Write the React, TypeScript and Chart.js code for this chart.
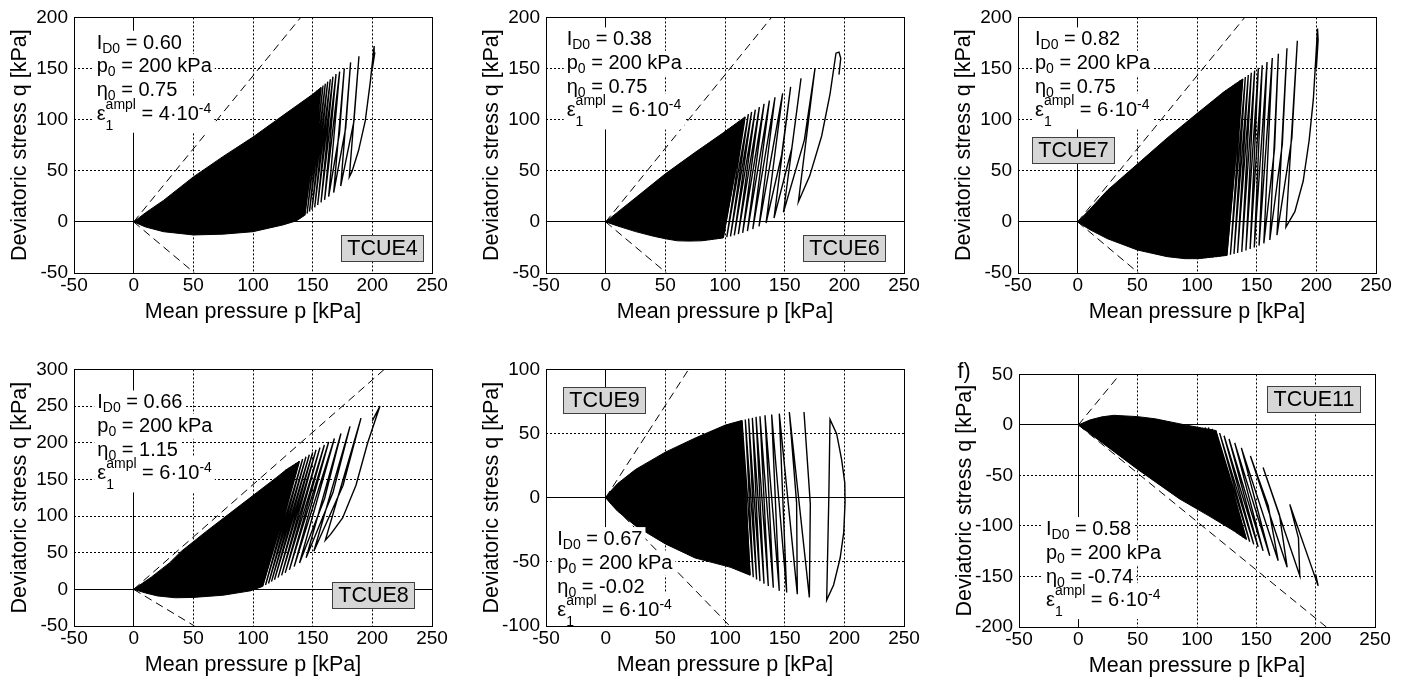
import React, { useEffect, useRef } from 'react';
import { Chart, registerables } from 'chart.js';

Chart.register(...registerables);

type Pt = [number, number];

const FONT = '"Liberation Sans", Arial, Helvetica, sans-serif';

// ---------- tick labels ----------
const pTicks = [-50, 0, 50, 100, 150, 200, 250];
const qTicks200 = [-50, 0, 50, 100, 150, 200];
const qTicks300 = [-50, 0, 50, 100, 150, 200, 250, 300];
const qTicks100 = [-100, -50, 0, 50, 100];
const qTicks50 = [-200, -150, -100, -50, 0, 50];

// ---------- test parameters ----------
const testNames = ['TCUE4', 'TCUE6', 'TCUE7', 'TCUE8', 'TCUE9', 'TCUE11'];
const densityID0 = ['0.60', '0.38', '0.82', '0.66', '0.67', '0.58'];
const p0kPa = ['200', '200', '200', '200', '200', '200'];
const eta0 = ['0.75', '0.75', '0.75', '1.15', '-0.02', '-0.74'];
const epsAmpl = ['4', '6', '6', '6', '6', '6'];

// ---------- TCUE4 ----------
const tcue4Path: Pt[] = [
  [200, 150], [202, 165], [201.5, 172], [198.3, 137], [194.1, 99], [188.5, 70], [183, 49.4], [180.7, 44],
  [188.8, 162], [184.6, 98.5], [173.5, 35], [181.8, 156], [177.7, 92], [167.6, 28.6], [176.5, 150], [172.5, 87], [163.4, 24.8],
  [172.6, 147], [160, 21.6],
  [169.6, 144.5], [157, 19], [167, 142], [154.2, 16.5], [164.8, 139.5], [151.7, 14.2], [162.6, 137], [149.4, 12],
  [160.6, 135], [147.3, 10], [158.7, 133.4], [145.3, 8], [157, 131.5], [143.4, 6.5], [155.3, 130], [141.5, 5],
  [153.6, 128.3], [139.7, 3.6], [152, 126.4], [138, 2.2], [150.3, 125], [136.3, 1],
];
const tcue4Core: Pt[] = [
  [0, 0], [5, 4.5], [10, 9], [25, 21], [50, 44], [75, 64], [100, 83], [125, 104], [150.3, 125], [157, 131.5], [143.4, 6.5],
  [136.3, 1], [125, -3], [100, -9.6], [75, -12], [50, -12.8], [25, -9.6], [10, -5], [0, 0],
];
const tcue4Comp: Pt[] = [[0, 0], [140, 200]];
const tcue4Ext: Pt[] = [[0, 0], [51, -50]];

// ---------- TCUE6 ----------
const tcue6Path: Pt[] = [
  [195.5, 144], [197, 160], [195.5, 166], [193, 165], [188, 125], [181, 84], [171, 45], [161.5, 19.6],
  [175.4, 150], [166.5, 80], [149, 9.4], [163.7, 140.4], [156, 72], [141.1, 3.7], [155, 132.1], [147.5, 65.5], [134.4, -1.1],
  [148.3, 125.7], [128.5, -4.5],
  [141.9, 121.9], [123.3, -7], [137.2, 118.7], [118.8, -9], [132.7, 115.5], [114.8, -10.7], [128.8, 112.3], [111.2, -12],
  [125.4, 109.7], [107.8, -13.2], [122.3, 107.5], [104.6, -14.2], [119.6, 105.3], [101.5, -15], [116.8, 102.7], [98.5, -15.7],
  [114, 100.2], [95.5, -16.3], [111.2, 97.9], [92.5, -16.9], [108.4, 95.7], [89.5, -17.4], [105.6, 93.1], [86.5, -17.8],
  [102.8, 90.9], [83.5, -18.2], [100, 88.3], [80.5, -18.5],
];
const tcue6Core: Pt[] = [
  [0, 0], [10, 9.5], [25, 23.5], [50, 47], [75, 68], [100, 88.3], [116.8, 102.7], [98.5, -15.7], [80.5, -18.5],
  [70, -18.8], [60, -18.5], [50, -16.5], [40, -14], [25, -9.5], [10, -4], [0, 0],
];
const tcue6Comp: Pt[] = [[0, 0], [139, 200]];
const tcue6Ext: Pt[] = [[0, 0], [51, -50]];

// ---------- TCUE7 ----------
const tcue7Path: Pt[] = [
  [200, 150], [201.5, 178], [201, 189], [199.8, 165], [197.5, 120], [194, 80], [189, 40], [182, 10], [174.5, -5],
  [184.1, 177.2], [179.5, 82], [167, -13], [175.4, 169.8], [171.5, 76], [161, -17.7], [168.2, 164.4], [165, 71.7], [156, -21],
  [163.1, 160.2], [152, -23.2],
  [158.7, 156.4], [148, -25], [154.7, 153.2], [144.5, -26.5], [151.4, 150.6], [141, -28], [148.3, 148.1], [137.5, -29.3],
  [145.5, 145.8], [134, -30.4], [143, 143.6], [131, -31.3], [140.5, 141.7], [128, -32.1], [138.3, 139.8], [125, -32.8],
  [136, 138.2], [122, -33.4], [134.1, 136.6], [119, -34], [132.1, 135], [116, -34.5], [130.2, 133.4], [113, -34.9],
  [128.2, 131.8], [110, -35.3], [126.3, 130.2], [107, -35.6], [124.3, 128.6], [104, -35.8], [122.3, 127], [101, -36],
];
const tcue7Core: Pt[] = [
  [0, 0], [10, 12], [25, 31], [50, 56.5], [75, 82], [100, 106], [122.3, 127], [138.3, 139.8], [125, -32.8], [101, -36],
  [90, -36], [75, -34], [50, -27.5], [25, -16.5], [10, -7.5], [0, 0],
];
const tcue7Comp: Pt[] = [[0, 0], [140, 200]];
const tcue7Ext: Pt[] = [[0, 0], [51, -50]];

// ---------- TCUE8 ----------
const tcue8Path: Pt[] = [
  [200, 230], [206.4, 250], [196.1, 200], [186.3, 142], [175.1, 97.3], [165, 75], [160.6, 67],
  [190.5, 233.5], [175.5, 142], [151, 52], [181.3, 222.3], [167, 132], [144.5, 43], [173.7, 212.5], [160, 124], [139, 36],
  [168.2, 205.8], [134.5, 31],
  [163.4, 200.9], [130.5, 26.5], [159.8, 196.9], [127, 22.5], [156.1, 193.3], [124, 19], [152.8, 190.2], [121, 16],
  [150, 186.6], [118, 13], [147.2, 183.5], [115.5, 10.5], [144.4, 180.8], [113, 8], [141.6, 177.7], [110.5, 6],
  [138.8, 174.6], [108, 4], [136, 171.9], [105.5, 2.5], [133.2, 168.8], [103, 1], [130.4, 165.6], [100.5, -0.5],
  [127.7, 163], [98, -2],
];
const tcue8Core: Pt[] = [
  [0, 0], [15, 17], [30, 36], [40, 52], [60, 78], [80, 103], [100, 128], [120, 153], [127.7, 163], [138.8, 174.6],
  [108, 4], [98, -2], [75, -8], [50, -11], [35, -11.5], [20, -9], [10, -5], [0, 0],
];
const tcue8Comp: Pt[] = [[0, 0], [210, 300]];
const tcue8Ext: Pt[] = [[0, 0], [51, -50]];

// ---------- TCUE9 ----------
const tcue9First: Pt[] = [
  [200.6, -4], [200.4, 11.5], [197.8, 29.3], [193.6, 49.7], [188, 61], [187, 0], [185.2, -79.8],
  [191, -68], [196.5, -47], [199.5, -27], [200.6, -4],
];
const tcue9Path: Pt[] = [
  [166.2, 66.8], [171.5, -5], [170.7, -77.7], [153.9, 66.8], [160, -4], [160.6, -75.2], [145.5, 65.5], [151.7, -73.9],
  [139.1, 64.8], [145.5, -72.6],
  [133.5, 64.2], [140.5, -70.1], [129.3, 63.5], [136.3, -68.8], [126, 63], [132.7, -67], [122.9, 62.2], [129.3, -65],
  [119.8, 61.7], [126.5, -63.7], [117, 60.9], [123.7, -62], [114.2, 60.2], [121, -60.4], [111.7, 59.7], [118.2, -59.4],
  [109.2, 58.9], [115.4, -57.9], [107, 58.4], [112.6, -56.9], [104.7, 57.9], [109.8, -55.6], [102.5, 57.1], [107, -54.8],
  [100.3, 56.6], [104.2, -54.1],
];
const tcue9Core: Pt[] = [
  [0, 0], [5, 6], [10, 11], [25, 22], [50, 35.5], [75, 46.5], [100.3, 56.6], [114.2, 60.2], [121, -60.4],
  [104.2, -54.1], [75, -47], [50, -36], [25, -22], [10, -10.5], [5, -5.5], [0, 0],
];
const tcue9Comp: Pt[] = [[0, 0], [69.5, 100]];
const tcue9Ext: Pt[] = [[0, 0], [104, -100]];

// ---------- TCUE11 ----------
const tcue11Path: Pt[] = [
  [200, -148], [202.1, -159.3], [178.2, -78.7], [185.5, -112], [186.6, -149], [155.7, -42.1], [169.5, -89], [176, -140.9],
  [145, -30.8], [160, -80], [168.4, -134.4],
  [137.4, -22.7], [161.3, -129.5], [131.8, -17.8], [155.7, -124.7], [127, -13.9], [151.5, -120.8], [122.8, -10.7], [147.8, -118.2],
  [119.1, -8.1], [144.4, -115.6], [115.8, -5.5], [141.6, -113.3], [112.7, -3.9], [138.8, -111.1], [109.6, -2.5], [136, -109.1],
  [106.8, -2.5], [133.8, -107.2], [104, -3], [131.5, -105.2],
];
const tcue11Core: Pt[] = [
  [0, 0], [10, 5], [20, 8], [30, 9.5], [50, 8.2], [65, 6], [75, 3.6], [90, 0], [104, -3], [115.8, -5.5], [141.6, -113.3],
  [131.5, -105.2], [110, -90], [85, -73], [50, -44], [25, -22], [0, 0],
];
const tcue11Comp: Pt[] = [[0, 0], [35, 50]];
const tcue11Ext: Pt[] = [[0, 0], [209, -200]];

// ---------- layout (positions only) ----------
interface PanelCfg {
  idx: number;
  l: number; t: number; w: number; h: number;
  qMin: number; qMax: number; qTicks: number[];
  paths: Pt[][]; core: Pt[]; comp: Pt[]; ext: Pt[];
  infoX: number; infoY: number;
  labelX: number; labelY: number;
  tag?: string;
}

const panels: PanelCfg[] = [
  { idx: 0, l: 74, t: 12, w: 358, h: 261, qMin: -50, qMax: 200, qTicks: qTicks200,
    paths: [tcue4Path], core: tcue4Core, comp: tcue4Comp, ext: tcue4Ext,
    infoX: 22.7, infoY: 31.3, labelX: 266.7, labelY: 218 },
  { idx: 1, l: 546, t: 12, w: 358, h: 261, qMin: -50, qMax: 200, qTicks: qTicks200,
    paths: [tcue6Path], core: tcue6Core, comp: tcue6Comp, ext: tcue6Ext,
    infoX: 20.7, infoY: 28, labelX: 257.3, labelY: 218 },
  { idx: 2, l: 1018, t: 12, w: 358, h: 261, qMin: -50, qMax: 200, qTicks: qTicks200,
    paths: [tcue7Path], core: tcue7Core, comp: tcue7Comp, ext: tcue7Ext,
    infoX: 17, infoY: 28, labelX: 13.7, labelY: 119.7 },
  { idx: 3, l: 74, t: 364, w: 358, h: 262, qMin: -50, qMax: 300, qTicks: qTicks300,
    paths: [tcue8Path], core: tcue8Core, comp: tcue8Comp, ext: tcue8Ext,
    infoX: 23.3, infoY: 39, labelX: 258.3, labelY: 212.4 },
  { idx: 4, l: 546, t: 364, w: 358, h: 262, qMin: -100, qMax: 100, qTicks: qTicks100,
    paths: [tcue9First, tcue9Path], core: tcue9Core, comp: tcue9Comp, ext: tcue9Ext,
    infoX: 11.3, infoY: 175.7, labelX: 17.3, labelY: 17.4 },
  { idx: 5, l: 1019, t: 369, w: 356, h: 258, qMin: -200, qMax: 50, qTicks: qTicks50,
    paths: [tcue11Path], core: tcue11Core, comp: tcue11Comp, ext: tcue11Ext,
    infoX: 27, infoY: 160.7, labelX: 248.3, labelY: 11.4, tag: 'f)' },
];

const AXIS_W = 70;
const AXIS_H = 57;
const PAD_T = 12;
const PAD_R = 30;

// ---------- rich text ----------
type Seg = { k: 'n' | 'sub' | 'sup'; t: string } | { k: 'ss'; sub: string; sup: string };

const MAIN = 20;
const SMALL = 14;
const fontOf = (s: number) => `${s}px ${FONT}`;

function infoLines(i: number): Seg[][] {
  return [
    [{ k: 'n', t: 'I' }, { k: 'sub', t: 'D0' }, { k: 'n', t: ' = ' + densityID0[i] }],
    [{ k: 'n', t: 'p' }, { k: 'sub', t: '0' }, { k: 'n', t: ' = ' + p0kPa[i] + ' kPa' }],
    [{ k: 'n', t: 'η' }, { k: 'sub', t: '0' }, { k: 'n', t: ' = ' + eta0[i] }],
    [{ k: 'n', t: 'ε' }, { k: 'ss', sub: '1', sup: 'ampl' }, { k: 'n', t: ' = ' + epsAmpl[i] + '·10' }, { k: 'sup', t: '-4' }],
  ];
}

function segWidth(ctx: CanvasRenderingContext2D, s: Seg): number {
  if (s.k === 'ss') {
    ctx.font = fontOf(SMALL);
    return Math.max(ctx.measureText(s.sub).width, ctx.measureText(s.sup).width);
  }
  ctx.font = fontOf(s.k === 'n' ? MAIN : SMALL);
  return ctx.measureText(s.t).width;
}

function richWidth(ctx: CanvasRenderingContext2D, segs: Seg[]) {
  let w = 0;
  for (const s of segs) w += segWidth(ctx, s);
  return w;
}

function drawRichBg(ctx: CanvasRenderingContext2D, x: number, y: number, segs: Seg[]) {
  const w = richWidth(ctx, segs);
  const ss = segs.some((s) => s.k === 'ss');
  ctx.fillStyle = '#fff';
  ctx.fillRect(x - 3, y - (ss ? 23 : 18), w + 6, ss ? 36 : 25);
}

function drawRichText(ctx: CanvasRenderingContext2D, x: number, y: number, segs: Seg[]) {
  ctx.fillStyle = '#000';
  let cx = x;
  for (const s of segs) {
    const sw = segWidth(ctx, s);
    if (s.k === 'ss') {
      ctx.fillText(s.sup, cx, y - 11);
      ctx.fillText(s.sub, cx, y + 10);
    } else if (s.k === 'sub') ctx.fillText(s.t, cx, y + 4);
    else if (s.k === 'sup') ctx.fillText(s.t, cx, y - 7);
    else ctx.fillText(s.t, cx, y);
    cx += sw;
  }
}

const LINE_OFF = [0, 23.4, 47.4, 71];

const al = (v: number) => Math.round(v - 0.5) + 0.5;

function makeDecor(cfg: PanelCfg) {
  return {
    id: 'decor' + cfg.idx,
    beforeDatasetsDraw(chart: any) {
      const { ctx, chartArea, scales } = chart;
      const { left, right, top, bottom } = chartArea;
      ctx.save();
      ctx.strokeStyle = '#000';
      ctx.lineWidth = 1;
      ctx.setLineDash([]);
      const y0 = al(scales.y.getPixelForValue(0));
      const x0 = al(scales.x.getPixelForValue(0));
      ctx.beginPath();
      ctx.moveTo(left, y0);
      ctx.lineTo(right, y0);
      ctx.moveTo(x0, top);
      ctx.lineTo(x0, bottom);
      ctx.stroke();
      ctx.restore();
    },
    afterDatasetsDraw(chart: any) {
      const { ctx, chartArea } = chart;
      const { left, top } = chartArea;
      ctx.save();
      ctx.textAlign = 'left';
      ctx.textBaseline = 'alphabetic';
      const lines = infoLines(cfg.idx);
      const x = left + cfg.infoX;
      lines.forEach((segs, k) => drawRichBg(ctx, x, top + cfg.infoY + LINE_OFF[k], segs));
      lines.forEach((segs, k) => drawRichText(ctx, x, top + cfg.infoY + LINE_OFF[k], segs));

      // test label box
      const name = testNames[cfg.idx];
      ctx.font = fontOf(21.5);
      const tw = ctx.measureText(name).width;
      const bx = Math.round(left + cfg.labelX) + 0.5;
      const by = Math.round(top + cfg.labelY) + 0.5;
      const bw = Math.round(tw + 12);
      const bh = 26;
      ctx.fillStyle = '#d6d6d6';
      ctx.fillRect(bx, by, bw, bh);
      ctx.strokeStyle = '#404040';
      ctx.lineWidth = 1;
      ctx.strokeRect(bx, by, bw, bh);
      ctx.fillStyle = '#000';
      ctx.textAlign = 'center';
      ctx.textBaseline = 'middle';
      ctx.fillText(name, bx + bw / 2, by + bh / 2 + 1);

      if (cfg.tag) {
        ctx.font = fontOf(21.5);
        ctx.fillText(cfg.tag, left - 55, top - 2);
      }
      ctx.restore();
    },
    afterDraw(chart: any) {
      const { ctx, chartArea } = chart;
      const { left, right, top, bottom } = chartArea;
      ctx.save();
      ctx.strokeStyle = '#000';
      ctx.lineWidth = 1;
      ctx.setLineDash([]);
      const x1 = al(left), x2 = al(right), y1 = al(top), y2 = al(bottom);
      ctx.strokeRect(x1, y1, x2 - x1, y2 - y1);
      ctx.restore();
    },
  };
}

const toXY = (a: Pt[]) => a.map(([x, y]) => ({ x, y }));

function PanelChart({ cfg }: { cfg: PanelCfg }) {
  const ref = useRef<HTMLCanvasElement | null>(null);
  const cw = cfg.w + AXIS_W + PAD_R;
  const ch = cfg.h + PAD_T + AXIS_H;

  useEffect(() => {
    const canvas = ref.current;
    if (!canvas) return;
    const tickFont = { family: FONT, size: 19 };
    const titleFont = { family: FONT, size: 21.5 };
    const lineDs = (d: Pt[], width: number, dash: number[] = []) => ({
      data: toXY(d),
      borderColor: '#000',
      borderWidth: width,
      borderDash: dash,
      backgroundColor: '#000',
      fill: false,
      pointRadius: 0,
      tension: 0,
    });
    const datasets: any[] = [
      lineDs(cfg.comp, 1, [8, 5]),
      lineDs(cfg.ext, 1, [8, 5]),
      ...cfg.paths.map((p) => lineDs(p, 1.4)),
      { ...lineDs(cfg.core, 1), fill: 'shape' },
    ];
    const chart = new Chart(canvas, {
      type: 'line',
      data: { datasets },
      options: {
        animation: false,
        responsive: false,
        devicePixelRatio: 1,
        events: [],
        layout: { padding: { left: 0, top: PAD_T, right: PAD_R, bottom: 0 } },
        plugins: {
          legend: { display: false },
          tooltip: { enabled: false },
          title: { display: false },
        },
        scales: {
          x: {
            type: 'linear',
            min: -50,
            max: 250,
            afterBuildTicks: (axis: any) => {
              axis.ticks = pTicks.map((v) => ({ value: v }));
            },
            afterFit: (axis: any) => {
              axis.height = AXIS_H;
            },
            ticks: {
              font: tickFont,
              color: '#000',
              padding: 1,
              maxRotation: 0,
              autoSkip: false,
              callback: (v: any) => String(v),
            },
            grid: { color: '#000', lineWidth: 1, drawTicks: false },
            border: { display: false, dash: [2, 2] },
            title: {
              display: true,
              text: 'Mean pressure p [kPa]',
              font: titleFont,
              color: '#000',
              padding: { top: 0, bottom: 4.6 },
            },
          },
          y: {
            type: 'linear',
            min: cfg.qMin,
            max: cfg.qMax,
            afterBuildTicks: (axis: any) => {
              axis.ticks = cfg.qTicks.map((v) => ({ value: v }));
            },
            afterFit: (axis: any) => {
              axis.width = AXIS_W;
            },
            ticks: {
              font: tickFont,
              color: '#000',
              padding: 6,
              autoSkip: false,
              callback: (v: any) => String(v),
            },
            grid: { color: '#000', lineWidth: 1, drawTicks: false },
            border: { display: false, dash: [2, 2] },
            title: {
              display: true,
              text: 'Deviatoric stress q [kPa]',
              font: titleFont,
              color: '#000',
              padding: { top: 3, bottom: 0 },
            },
          },
        },
      } as any,
      plugins: [makeDecor(cfg)],
    });
    return () => chart.destroy();
  }, [cfg]);

  return (
    <canvas
      ref={ref}
      width={cw}
      height={ch}
      style={{
        position: 'absolute',
        left: cfg.l - AXIS_W,
        top: cfg.t - PAD_T,
        width: cw,
        height: ch,
      }}
    />
  );
}

export default function App() {
  return (
    <div
      style={{
        position: 'absolute',
        left: 0,
        top: 0,
        width: 1422,
        height: 686,
        background: '#fff',
        overflow: 'hidden',
      }}
    >
      {panels.map((p) => (
        <PanelChart key={p.idx} cfg={p} />
      ))}
    </div>
  );
}
